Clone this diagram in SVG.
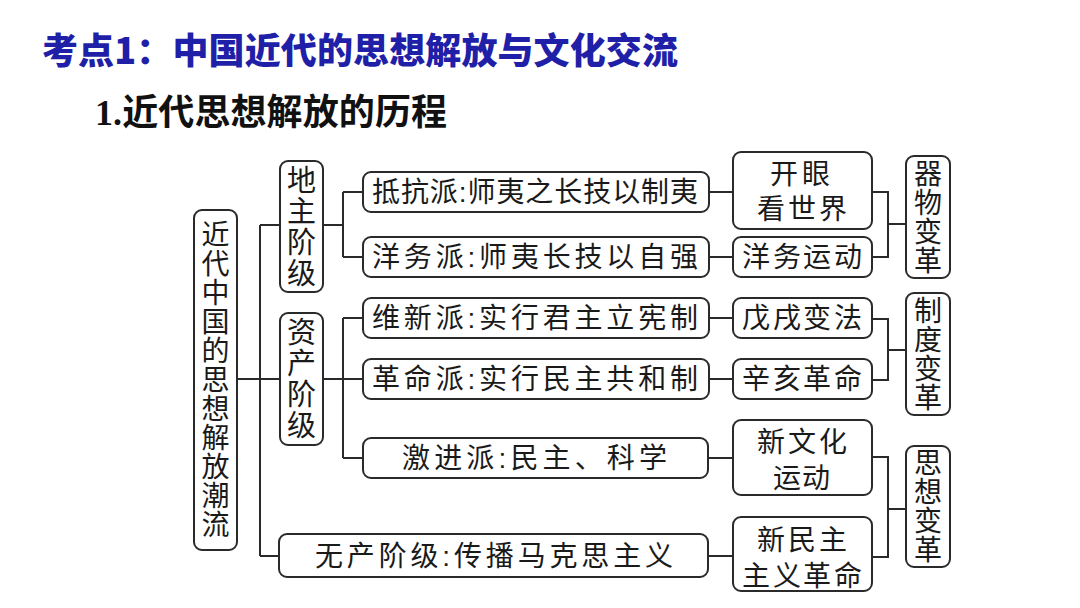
<svg xmlns="http://www.w3.org/2000/svg" width="1080" height="608" viewBox="0 0 1080 608">
<style>
.box{fill:#fff;stroke:#2a2a2a;stroke-width:2}
.ln{fill:none;stroke:#2a2a2a;stroke-width:2}
.t{font-family:"Liberation Sans","Noto Sans CJK SC","Noto Sans CJK JP",sans-serif;font-size:28px;fill:#1a1a1a}
.tv{font-family:"Liberation Sans","Noto Sans CJK SC","Noto Sans CJK JP",sans-serif;font-size:28px;fill:#1a1a1a;text-anchor:middle}
.tv29{font-size:29px}
</style>
<rect width="1080" height="608" fill="#fff"/>
<text x="42" y="64" font-family="'Noto Sans CJK SC',sans-serif" font-size="36" font-weight="900" fill="#1f1fa8" textLength="636">考点1：中国近代的思想解放与文化交流</text>
<text x="95" y="125" font-family="'Liberation Serif','Noto Sans CJK SC',serif" font-size="36" font-weight="700" fill="#111" textLength="352">1.近代思想解放的历程</text>

<g id="connectors">
<path class="ln" d="M237,379H260M260,225V556M260,225H280M260,379H280M260,556H279"/>
<path class="ln" d="M323,225H343M343,192V257M343,192H363M343,257H363"/>
<path class="ln" d="M323,379H343M343,318V458M343,318H363M343,379H363M343,458H363"/>
<path class="ln" d="M709,192H733M709,257H733M709,318H733M709,379H733M709,458H733M708,556H733"/>
<path class="ln" d="M872,192H888V257H872M888,224H906"/>
<path class="ln" d="M872,319H888V380H872M888,350H906"/>
<path class="ln" d="M872,457H888V557H872M888,509H906"/>
</g>

<g id="root">
<rect class="box" x="194" y="210" width="43" height="340" rx="8"/>
<text class="tv" x="215.5" y="245">近</text>
<text class="tv" x="215.5" y="274">代</text>
<text class="tv" x="215.5" y="303">中</text>
<text class="tv" x="215.5" y="332">国</text>
<text class="tv" x="215.5" y="361">的</text>
<text class="tv" x="215.5" y="390">思</text>
<text class="tv" x="215.5" y="419">想</text>
<text class="tv" x="215.5" y="448">解</text>
<text class="tv" x="215.5" y="477">放</text>
<text class="tv" x="215.5" y="506">潮</text>
<text class="tv" x="215.5" y="535">流</text>
</g>

<g id="dizhu">
<rect class="box" x="280" y="161" width="43" height="131" rx="8"/>
<text class="tv tv29" x="301.5" y="190.5">地</text>
<text class="tv tv29" x="301.5" y="221.5">主</text>
<text class="tv tv29" x="301.5" y="252.5">阶</text>
<text class="tv tv29" x="301.5" y="283.5">级</text>
</g>
<g id="zichan">
<rect class="box" x="280" y="313" width="43" height="132" rx="8"/>
<text class="tv tv29" x="301.5" y="343">资</text>
<text class="tv tv29" x="301.5" y="374">产</text>
<text class="tv tv29" x="301.5" y="405">阶</text>
<text class="tv tv29" x="301.5" y="436">级</text>
</g>
<g id="wuchan">
<rect class="box" x="279" y="534" width="429" height="43" rx="8"/>
<text class="t" x="315" y="566" textLength="358">无产阶级:传播马克思主义</text>
</g>

<g id="dikang">
<rect class="box" x="363" y="172" width="346" height="40" rx="8"/>
<text class="t" x="372" y="202" textLength="326">抵抗派:师夷之长技以制夷</text>
</g>
<g id="yangwupai">
<rect class="box" x="363" y="237" width="346" height="40" rx="8"/>
<text class="t" x="372" y="267" textLength="326">洋务派:师夷长技以自强</text>
</g>
<g id="weixin">
<rect class="box" x="363" y="298" width="346" height="40" rx="8"/>
<text class="t" x="372" y="328" textLength="326">维新派:实行君主立宪制</text>
</g>
<g id="geming">
<rect class="box" x="363" y="359" width="346" height="40" rx="8"/>
<text class="t" x="372" y="389" textLength="326">革命派:实行民主共和制</text>
</g>
<g id="jijin">
<rect class="box" x="363" y="438" width="345" height="40" rx="8"/>
<text class="t" x="402" y="468" textLength="265">激进派:民主、科学</text>
</g>

<g id="kaiyan">
<rect class="box" x="733" y="152" width="139" height="77" rx="8"/>
<text class="t" x="770 802" y="184">开眼</text>
<text class="t" x="757 788 819" y="219">看世界</text>
</g>
<g id="yangwu">
<rect class="box" x="733" y="237" width="139" height="40" rx="8"/>
<text class="t" x="742 773 803 834" y="267">洋务运动</text>
</g>
<g id="wuxu">
<rect class="box" x="733" y="298" width="139" height="40" rx="8"/>
<text class="t" x="742 773 803 834" y="328">戊戌变法</text>
</g>
<g id="xinhai">
<rect class="box" x="733" y="359" width="139" height="40" rx="8"/>
<text class="t" x="742 773 803 834" y="389">辛亥革命</text>
</g>
<g id="xinwenhua">
<rect class="box" x="733" y="420" width="139" height="75" rx="8"/>
<text class="t" x="757 788 819" y="452">新文化</text>
<text class="t" x="773 802" y="488">运动</text>
</g>
<g id="xinminzhu">
<rect class="box" x="733" y="517" width="139" height="74" rx="8"/>
<text class="t" x="757 788 819" y="550">新民主</text>
<text class="t" x="742 773 803 834" y="586">主义革命</text>
</g>

<g id="qiwu">
<rect class="box" x="906" y="156" width="44" height="122" rx="8"/>
<text class="tv" x="928" y="183.5">器</text>
<text class="tv" x="928" y="212.5">物</text>
<text class="tv" x="928" y="241.5">变</text>
<text class="tv" x="928" y="270.5">革</text>
</g>
<g id="zhidu">
<rect class="box" x="906" y="293" width="44" height="122" rx="8"/>
<text class="tv" x="928" y="320.5">制</text>
<text class="tv" x="928" y="349.5">度</text>
<text class="tv" x="928" y="378.5">变</text>
<text class="tv" x="928" y="407.5">革</text>
</g>
<g id="sixiang">
<rect class="box" x="906" y="446" width="44" height="121" rx="8"/>
<text class="tv" x="928" y="473">思</text>
<text class="tv" x="928" y="502">想</text>
<text class="tv" x="928" y="531">变</text>
<text class="tv" x="928" y="560">革</text>
</g>
</svg>
